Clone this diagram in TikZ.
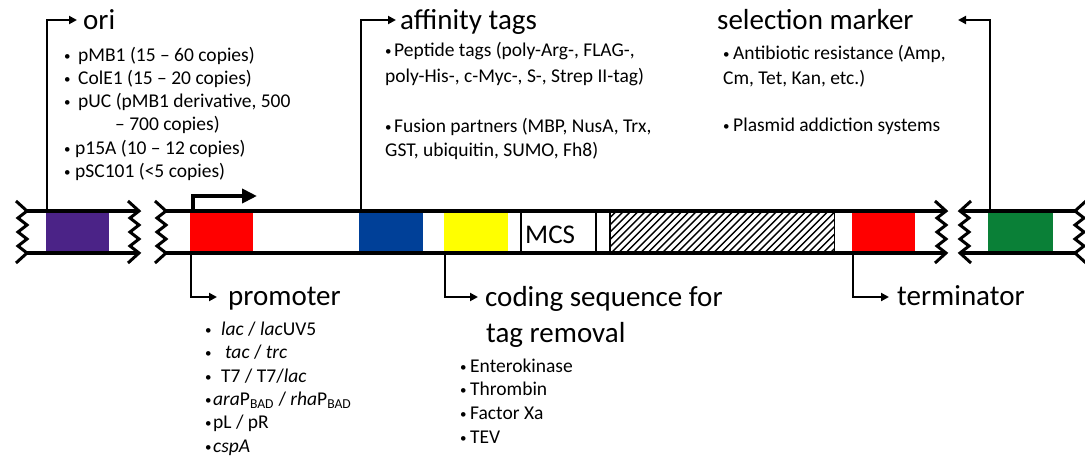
\documentclass[tikz,border=0pt]{standalone}
\usepackage{fontspec}
\setmainfont{Carlito}
\usetikzlibrary{arrows.meta}
\definecolor{cpurple}{RGB}{75,35,135}
\definecolor{cred}{RGB}{255,0,0}
\definecolor{cblue}{RGB}{0,64,152}
\definecolor{cyellow}{RGB}{255,255,0}
\definecolor{cgreen}{RGB}{10,128,55}
\newcommand\mybul[1]{\makebox[#1][l]{\raisebox{1pt}{\fontsize{13}{13}\selectfont •}}}
\begin{document}
\begin{tikzpicture}[x=1pt,y=-1pt,
  hdr/.style={anchor=base west, inner sep=0pt, font=\fontsize{29}{35}\selectfont},
  bul/.style={anchor=base west, inner sep=0pt, font=\fontsize{19.5}{23}\selectfont},
  seg/.style={minimum height=42pt, inner sep=0pt, anchor=north west, draw=none},
  strip/.style={line width=3.5pt},
  conn/.style={line width=2pt, -{Triangle[length=8pt,width=8pt]}},
  tssarrow/.style={line width=4pt, -{Triangle[length=15pt,width=14pt]}},
  zigline/.style={line width=3pt},
  zig/.pic={\draw[zigline] (-11,-10) -- (0,0) -- (-9,7) -- (0,14) -- (-9,21) -- (0,28) -- (-9,35) -- (0,42) -- (-11,52);}
]
\useasboundingbox (0,0) rectangle (1085,456);

% ---- coloured segments ----
\node[seg, fill=cpurple, minimum width=63pt] (ori box) at (46,211) {};
\node[seg, fill=cred, minimum width=63pt] (prom) at (190,211) {};
\node[seg, fill=cblue, minimum width=64pt] (blue) at (359,211) {};
\node[seg, fill=cyellow, minimum width=64pt] (yellow) at (444,211) {};
\node[seg, draw=black, line width=2pt, minimum width=75pt] (mcs) at (520,211) {};
\node[anchor=base west, inner sep=0pt, font=\fontsize{27}{30}\selectfont] (mcstext) at (525,243) {MCS};
\node[seg, minimum width=224pt] (hatch) at (610,211) {};
\begin{scope}
  \clip (hatch.south west) rectangle (hatch.north east);
  \foreach \x in {560,567.3,...,845} \draw[line width=1.4pt] (\x,253) -- ++(42,-42);
\end{scope}
\draw[line width=1.3pt] (hatch.south west) rectangle (hatch.north east);
\node[seg, fill=cred, minimum width=63pt] (term) at (852,211) {};
\node[seg, fill=cgreen, minimum width=65pt] (green) at (988,211) {};

% ---- strands ----
\draw[strip] (27,211) -- (139,211) (27,253) -- (139,253);
\draw[strip] (166,211) -- (946,211) (166,253) -- (946,253);
\draw[strip] (960,211) -- (1075,211) (960,253) -- (1075,253);

% ---- breaks ----
\pic at (27,211) {zig};
\pic at (139,211) {zig};
\pic at (166,211) {zig};
\pic at (946,211) {zig};
\pic[xscale=-1] at (960,211) {zig};
\pic[xscale=-1] at (1075,211) {zig};

% ---- transcription start ----
\coordinate (tss) at (257,196);
\draw[tssarrow] ([xshift=3pt]prom.north west) |- (tss);

% ---- headers ----
\node[hdr] (ori) at (83,29) {ori};
\node[hdr] (aff) at (400,29) {affinity tags};
\node[hdr] (sel) at (717,29) {selection marker};
\node[hdr] (pro) at (228,305) {promoter};
\node[hdr] (cod) at (485,306) {coding sequence for};
\node[hdr] (cod2) at (486,342) {tag removal};
\node[hdr] (ter) at (897,305) {terminator};

% ---- connectors ----
\coordinate (oriTip) at (77,20);
\coordinate (affTip) at (396,20);
\coordinate (selTip) at (958,20);
\coordinate (proTip) at (217,297);
\coordinate (codTip) at (478,297);
\coordinate (terTip) at (889,297);
\draw[conn] ([xshift=1pt]ori box.north west) |- (oriTip);
\draw[conn] ([xshift=2pt]blue.north west) |- (affTip);
\draw[conn] ([xshift=2pt]green.north west) |- (selTip);
\draw[conn] ([xshift=1pt]prom.south west) |- (proTip);
\draw[conn] ([xshift=1pt]yellow.south west) |- (codTip);
\draw[conn] ([xshift=1pt]term.south west) |- (terTip);

% ---- ori list ----
\node[bul] (o1) at (64,61) {\mybul{14pt}pMB1 (15 – 60 copies)};
\node[bul] (o2) at (64,84) {\mybul{14pt}ColE1 (15 – 20 copies)};
\node[bul] (o3) at (64,107) {\mybul{14pt}pUC (pMB1 derivative, 500};
\node[bul] (o4) at (115,130) {– 700 copies)};
\node[bul] (o5) at (64,154) {\mybul{11pt}p15A (10 – 12 copies)};
\node[bul] (o6) at (64,177) {\mybul{11pt}pSC101 (<5 copies)};

% ---- affinity list ----
\node[bul] (a1) at (385,56) {\mybul{9pt}Peptide tags (poly-Arg-, FLAG-,};
\node[bul] (a2) at (385,82) {poly-His-, c-Myc-, S-, Strep II-tag)};
\node[bul] (a3) at (385,132) {\mybul{9pt}Fusion partners (MBP, NusA, Trx,};
\node[bul] (a4) at (385,156) {GST, ubiquitin, SUMO, Fh8)};

% ---- selection list ----
\node[bul] (s1) at (723,59) {\mybul{10pt}Antibiotic resistance (Amp,};
\node[bul] (s2) at (723,84) {Cm, Tet, Kan, etc.)};
\node[bul] (s3) at (723,131) {\mybul{10pt}Plasmid addiction systems};

% ---- promoter list ----
\node[bul] (p1) at (205,335) {\mybul{16pt}\textit{lac} / \textit{lac}UV5};
\node[bul] (p2) at (205,358) {\mybul{20pt}\textit{tac} / \textit{trc}};
\node[bul] (p3) at (205,382) {\mybul{16pt}T7 / T7/\textit{lac}};
\node[bul] (p4) at (205,405) {\mybul{8pt}\textit{ara}P\textsubscript{BAD} / \textit{rha}P\textsubscript{BAD}};
\node[bul] (p5) at (205,428) {\mybul{8pt}pL / pR};
\node[bul] (p6) at (205,452) {\mybul{8pt}\textit{cspA}};

% ---- coding list ----
\node[bul] (c1) at (460,372) {\mybul{10pt}Enterokinase};
\node[bul] (c2) at (460,395) {\mybul{10pt}Thrombin};
\node[bul] (c3) at (460,419) {\mybul{10pt}Factor Xa};
\node[bul] (c4) at (460,443) {\mybul{10pt}TEV};
\end{tikzpicture}
\end{document}
